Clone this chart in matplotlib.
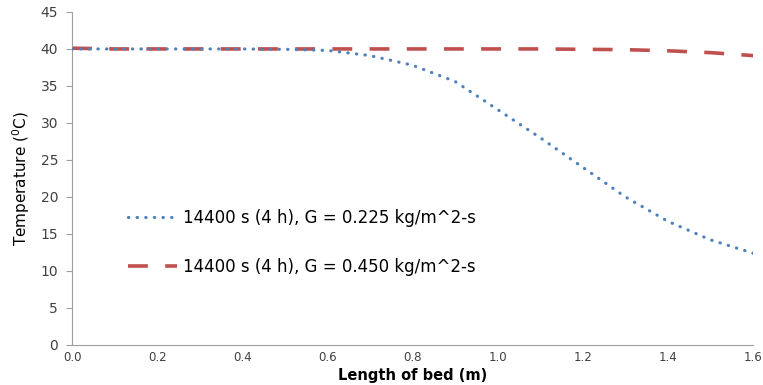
import numpy as np
import matplotlib.pyplot as plt
from matplotlib.ticker import FormatStrFormatter

# bed position (m)
x = [0.0, 0.1, 0.2, 0.3, 0.4, 0.5, 0.6, 0.7, 0.8, 0.9, 1.0, 1.1, 1.2, 1.3, 1.4, 1.5, 1.6]
# 14400 s, G = 0.225
t_low = [40.0, 40.0, 40.0, 40.0, 40.0, 39.95, 39.8, 39.1, 37.8, 35.6, 31.8, 28.0, 24.0, 20.0, 16.7, 14.2, 12.4]
# 14400 s, G = 0.450
t_high = [40.1, 40.0, 40.0, 40.0, 40.0, 40.0, 40.0, 40.0, 40.0, 40.0, 40.0, 40.0, 39.95, 39.9, 39.75, 39.5, 39.1]

labels = ["14400 s (4 h), G = 0.225 kg/m^2-s", "14400 s (4 h), G = 0.450 kg/m^2-s"]

fig = plt.figure(figsize=(7.63, 3.85), dpi=100)
ax = fig.add_axes([0.0944, 0.104, 0.8926, 0.865])

ax.plot(x, t_low, color="#4F81BD", lw=2.3, linestyle=(0, (0.1, 2.6)),
        dash_capstyle="round", label=labels[0], zorder=3)
ax.plot(x, t_high, color="#C0504D", lw=2.6, linestyle=(0, (5.5, 4.8)),
        label=labels[1], zorder=2)

ax.set_xlim(0, 1.6)
ax.set_ylim(0, 45)
ax.set_xticks(np.arange(0, 1.61, 0.2))
ax.set_yticks(np.arange(0, 46, 5))
ax.xaxis.set_major_formatter(FormatStrFormatter("%.1f"))

for s in ["top", "right"]:
    ax.spines[s].set_visible(False)
for s in ["left", "bottom"]:
    ax.spines[s].set_color("#A0A0A0")
ax.tick_params(axis="y", length=4, color="#A0A0A0", labelsize=10, labelcolor="#404040", pad=6)
ax.tick_params(axis="x", length=0, labelsize=8.5, labelcolor="#404040", pad=4)

ax.set_xlabel("Length of bed (m)", fontsize=10.5, fontweight="bold")
ax.xaxis.set_label_coords(0.5, -0.068)
ax.set_ylabel("Temperature ($^{0}$C)", fontsize=11, labelpad=6)

fig.legend(loc="center left", bbox_to_anchor=(0.168, 0.371), frameon=False,
           fontsize=12, handlelength=2.9, handletextpad=0.4, labelspacing=1.85,
           borderpad=0, borderaxespad=0)

fig.savefig("out.png", dpi=100)
